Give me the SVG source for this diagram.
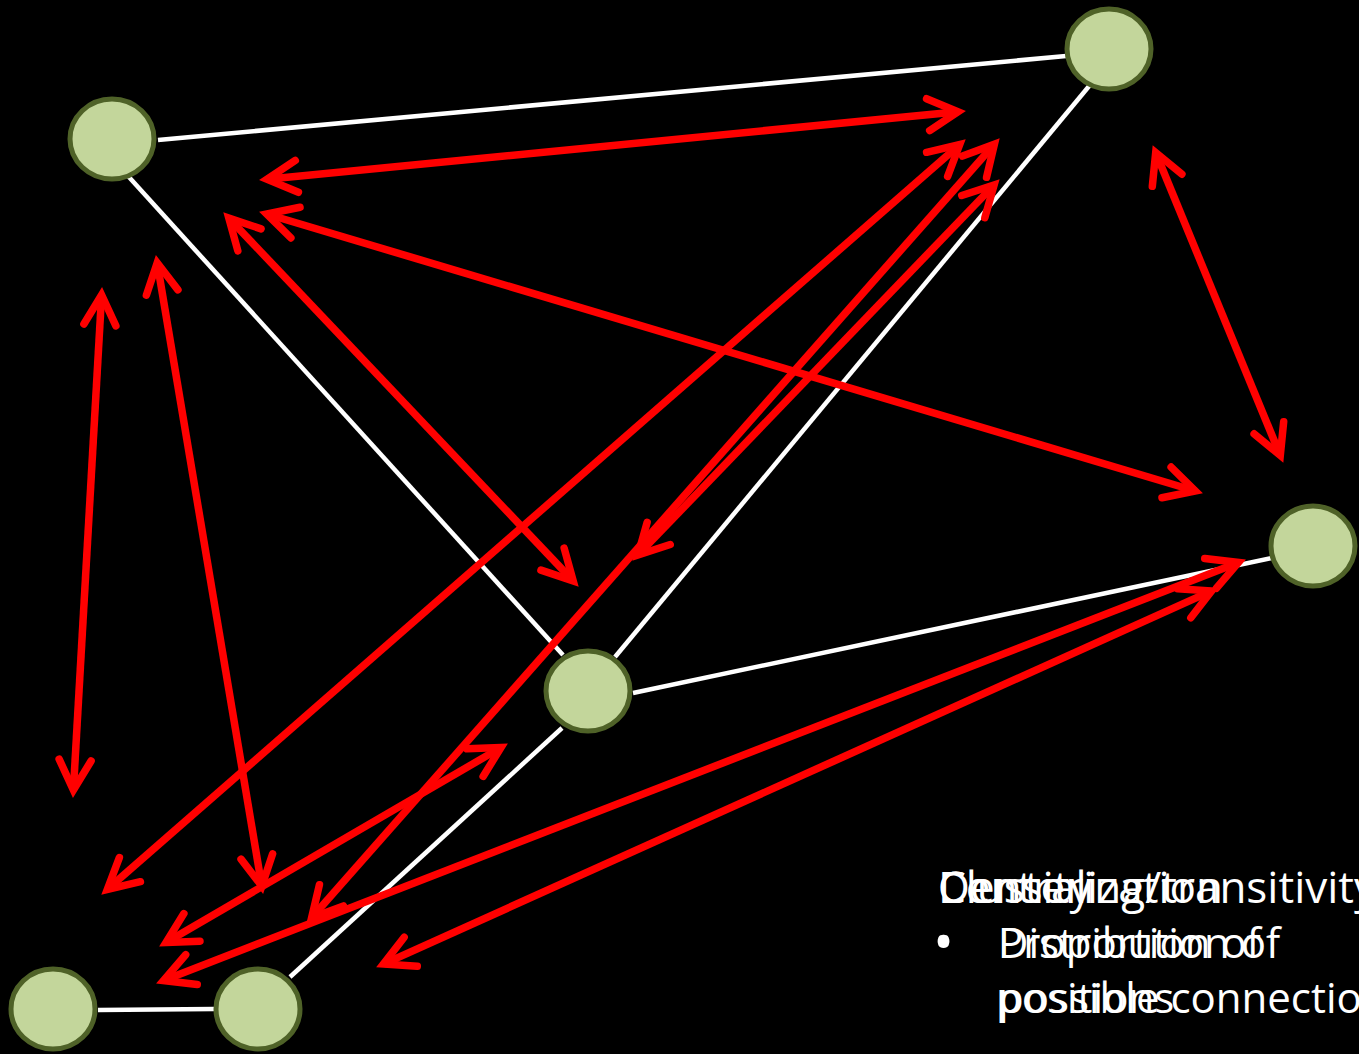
<svg xmlns="http://www.w3.org/2000/svg" width="1359" height="1054" viewBox="0 0 1359 1054">
<style>
.edge{stroke:#ffffff;stroke-width:4.5;fill:none}
.node{fill:#c3d69b;stroke:#4f6228;stroke-width:5}
.arr{stroke:#ff0000;stroke-width:7.5;fill:none;marker-start:url(#head);marker-end:url(#head)}
.t{fill:#ffffff;font-family:"Open Sans","Liberation Sans",sans-serif}
.t1{font-size:44px}
.t2{font-size:42px}
.bul{font-size:56px}
</style>
<defs>
<marker id="head" markerUnits="userSpaceOnUse" orient="auto-start-reverse" refX="0" refY="0" markerWidth="60" markerHeight="60" overflow="visible">
<path d="M-30,-16 L0,0 L-30,16" fill="none" stroke="#ff0000" stroke-width="7.5" stroke-linejoin="miter" stroke-miterlimit="10" stroke-linecap="round"/>
</marker>
</defs>
<rect x="0" y="0" width="1359" height="1054" fill="#000000"/>
<g id="edges">
<line class="edge" x1="158" y1="140" x2="1066" y2="56"/>
<line class="edge" x1="128" y1="176" x2="563" y2="655"/>
<line class="edge" x1="1090" y1="85" x2="615" y2="657"/>
<line class="edge" x1="562" y1="728" x2="290" y2="977"/>
<line class="edge" x1="633" y1="693" x2="1272" y2="558"/>
<line class="edge" x1="98" y1="1010" x2="214" y2="1009"/>
</g>
<g id="n1"><ellipse class="node" cx="112" cy="139" rx="42" ry="40"/></g>
<g id="n2"><ellipse class="node" cx="1109" cy="49" rx="42" ry="40"/></g>
<g id="n3"><ellipse class="node" cx="1313" cy="546" rx="42" ry="40"/></g>
<g id="n4"><ellipse class="node" cx="588" cy="691" rx="42" ry="40"/></g>
<g id="n5"><ellipse class="node" cx="53" cy="1009" rx="42" ry="40"/></g>
<g id="n6"><ellipse class="node" cx="258" cy="1009" rx="42" ry="40"/></g>
<g id="arrows">
<line class="arr" x1="267.0" y1="179.3" x2="958.0" y2="111.7"/>
<line class="arr" x1="266.7" y1="214.0" x2="1195.3" y2="491.0"/>
<line class="arr" x1="228.8" y1="218.1" x2="573.2" y2="580.9"/>
<line class="arr" x1="959.7" y1="144.6" x2="107.3" y2="889.4"/>
<line class="arr" x1="994.4" y1="144.2" x2="311.6" y2="917.8"/>
<line class="arr" x1="994.1" y1="185.0" x2="637.9" y2="555.0"/>
<line class="arr" x1="101.6" y1="295.0" x2="73.4" y2="790.0"/>
<line class="arr" x1="157.2" y1="262.9" x2="261.8" y2="886.1"/>
<line class="arr" x1="501.0" y1="747.5" x2="166.0" y2="942.5"/>
<line class="arr" x1="1238.5" y1="562.5" x2="163.5" y2="980.5"/>
<line class="arr" x1="1211.6" y1="590.9" x2="383.4" y2="964.1"/>
<line class="arr" x1="1155.7" y1="152.5" x2="1280.3" y2="455.5"/>
</g>
<g id="labels">
<text class="t t1" x="938" y="903">Density</text>
<text class="t t1" x="938" y="903">Centralization</text>
<text class="t t1" x="938" y="903">Clustering/transitivity</text>
<text class="t bul" x="933" y="962">•</text>
<text class="t t2" x="998" y="958">Proportion of</text>
<text class="t t2" x="998" y="958">Distribution of</text>
<text class="t t2" x="998" y="1013">possible connections</text>
<text class="t t2" x="996" y="1013">positions</text>
</g>
</svg>
